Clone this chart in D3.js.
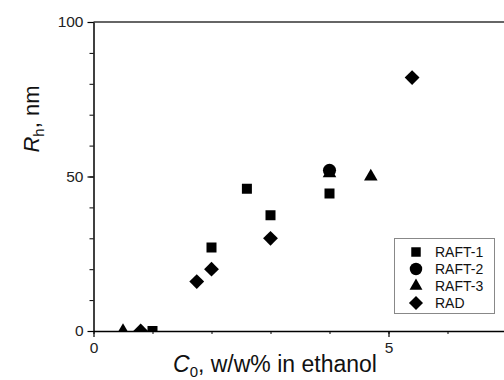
<!DOCTYPE html>
<html>
<head>
<meta charset="utf-8">
<script src="https://cdn.jsdelivr.net/npm/d3@7"></script>
<style>
  body { margin: 0; background: #fff; }
  svg { display: block; font-family: "Liberation Sans", Arial, sans-serif; }
</style>
</head>
<body>
<div id="chart"></div>
<script>
// values
const raft1X = [1.0, 2.0, 2.6, 3.0, 4.0];
const raft1Y = [0, 27, 46, 37.5, 44.5];
const raft2X = [4.0];
const raft2Y = [52];
const raft3X = [0.5, 4.0, 4.7];
const raft3Y = [0, 51, 50];
const radX = [0.8, 1.75, 2.0, 3.0, 5.4];
const radY = [0, 16, 20, 30, 82];
const seriesNames = ["RAFT-1", "RAFT-2", "RAFT-3", "RAD"];
const xTicks = [0, 5];
const yTicks = [0, 50, 100];

const width = 504, height = 380;
const margin = { top: 22, left: 93.5 };

const svg = d3.select("#chart").append("svg")
  .attr("width", width)
  .attr("height", height);

const x = d3.scaleLinear().domain([0, 7]).range([margin.left, margin.left + 7 * 59]);
const y = d3.scaleLinear().domain([0, 100]).range([331, margin.top]);

svg.append("defs").append("clipPath").attr("id", "plot")
  .append("rect")
  .attr("x", x(0)).attr("y", y(100))
  .attr("width", x(7) - x(0)).attr("height", y(0) - y(100));

// top frame line
svg.append("line")
  .attr("x1", x(0)).attr("x2", x(7))
  .attr("y1", y(100)).attr("y2", y(100))
  .attr("stroke", "#333").attr("stroke-width", 1.5);

// minor ticks first, then the labelled axis
svg.append("g")
  .attr("transform", "translate(0," + y(0) + ")")
  .call(d3.axisBottom(x).tickValues(d3.range(0, 8, 1)).tickSize(3).tickFormat(""))
  .call(g => g.select(".domain").remove());
svg.append("g")
  .attr("transform", "translate(" + x(0) + ",0)")
  .call(d3.axisLeft(y).tickValues(d3.range(0, 101, 10)).tickSize(4).tickFormat(""))
  .call(g => g.select(".domain").remove());

const xAxis = svg.append("g")
  .attr("transform", "translate(0," + y(0) + ")")
  .call(d3.axisBottom(x).tickValues(xTicks).tickSize(6).tickSizeOuter(0).tickPadding(5).tickFormat(d3.format("d")));
const yAxis = svg.append("g")
  .attr("transform", "translate(" + x(0) + ",0)")
  .call(d3.axisLeft(y).tickValues(yTicks).tickSize(6).tickSizeOuter(0).tickPadding(4).tickFormat(d3.format("d")));

[xAxis, yAxis].forEach(g => {
  g.select(".domain").attr("stroke", "#000").attr("stroke-width", 1.5);
  g.selectAll(".tick line").attr("stroke-width", 1.2);
  g.selectAll(".tick text").attr("font-size", 15.5).attr("fill", "#222")
    .attr("font-family", "Liberation Sans, Arial, sans-serif");
});
svg.selectAll(".tick line").attr("stroke", "#000");

// axis titles
const xt = svg.append("text")
  .attr("x", 275).attr("y", 372)
  .attr("text-anchor", "middle")
  .attr("font-size", 23).attr("fill", "#111");
xt.append("tspan").attr("font-style", "italic").text("C");
xt.append("tspan").attr("font-size", 15).attr("dy", 5).text("0");
xt.append("tspan").attr("dy", -5).text(", w/w% in ethanol");

const yt = svg.append("text")
  .attr("transform", "translate(39,119) rotate(-90)")
  .attr("text-anchor", "middle")
  .attr("font-size", 22).attr("fill", "#111");
yt.append("tspan").attr("font-style", "italic").text("R");
yt.append("tspan").attr("font-size", 15).attr("dy", 5).text("h");
yt.append("tspan").attr("dy", -5).text(", nm");

// markers
const shapes = {
  "RAFT-1": { type: d3.symbolSquare, size: 100, rot: 0 },
  "RAFT-2": { type: d3.symbolCircle, size: 135, rot: 0 },
  "RAFT-3": { type: d3.symbolTriangle, size: 80, rot: 0 },
  "RAD": { type: d3.symbolSquare, size: 110, rot: 45 }
};
const series = [
  { name: "RAFT-3", xs: raft3X, ys: raft3Y },
  { name: "RAFT-1", xs: raft1X, ys: raft1Y },
  { name: "RAFT-2", xs: raft2X, ys: raft2Y },
  { name: "RAD", xs: radX, ys: radY }
];

const pts = svg.append("g").attr("clip-path", "url(#plot)");
series.forEach(s => {
  const sh = shapes[s.name];
  pts.selectAll(null)
    .data(s.xs.map((v, i) => [v, s.ys[i]]))
    .enter().append("path")
    .attr("d", d3.symbol().type(sh.type).size(sh.size))
    .attr("transform", d => "translate(" + x(d[0]) + "," + y(d[1]) + ") rotate(" + sh.rot + ")")
    .attr("fill", "#000");
});

// legend
const legend = svg.append("g");
legend.append("rect")
  .attr("x", 394.5).attr("y", 238.5)
  .attr("width", 100).attr("height", 75)
  .attr("fill", "#fff").attr("stroke", "#888").attr("stroke-width", 1);
seriesNames.forEach((n, i) => {
  const sh = shapes[n];
  const ly = 252 + i * 17;
  legend.append("path")
    .attr("d", d3.symbol().type(sh.type).size(sh.size * 0.9))
    .attr("transform", "translate(416," + ly + ") rotate(" + sh.rot + ")")
    .attr("fill", "#000");
  legend.append("text")
    .attr("x", 435).attr("y", ly + 5)
    .attr("font-size", 14).attr("fill", "#111")
    .text(n);
});
</script>
</body>
</html>
